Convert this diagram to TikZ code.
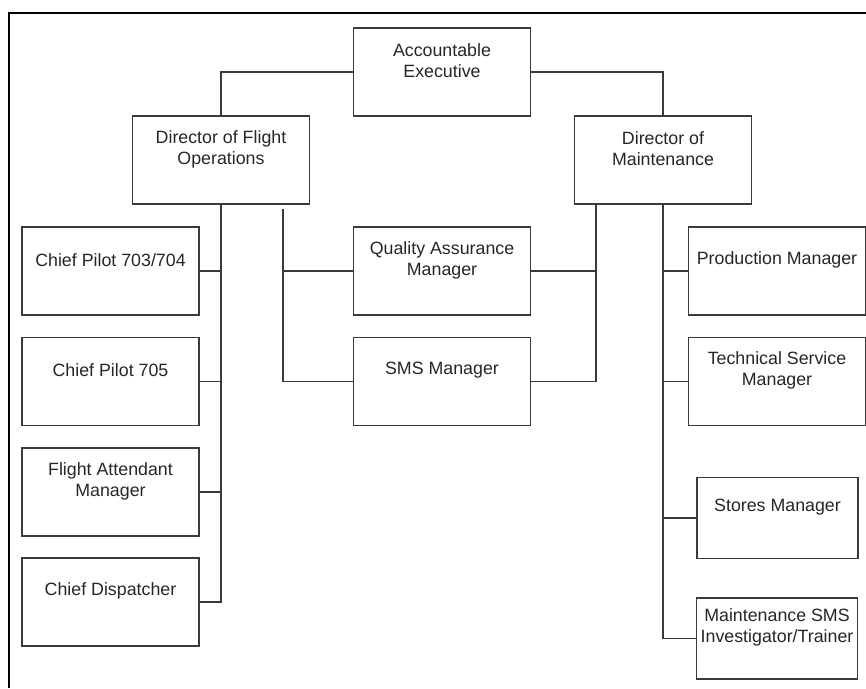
\documentclass[tikz,border=0pt]{standalone}
\usepackage{fontspec}
\setmainfont{Liberation Sans}
\definecolor{boxline}{HTML}{3A3A3A}
\definecolor{textgray}{HTML}{262626}
\tikzset{
  office/.style={draw=boxline, line width=1.3pt, minimum width=177pt, minimum height=88pt, inner sep=0pt},
  smalloffice/.style={office, minimum width=161pt, minimum height=81pt},
  title/.style={align=center, text=textgray, inner sep=0pt,
    font=\fontsize{17.8}{21}\selectfont},
  link/.style={draw=boxline, line width=1.3pt}
}

\begin{document}
\begin{tikzpicture}[x=1pt, y=-1pt]
		\useasboundingbox (0,0) rectangle (866,688);
		% open frame round the chart
		\coordinate (frameA) at (9,688);
		\coordinate (frameB) at (9,13);
		\coordinate (frameC) at (866,13);
		\draw[line width=1.6pt] (frameA) -- (frameB) -- (frameC);

		% boxes
		\node[office] (ae) at (442,72) {};
		\node[office] (dfo) at (221,160) {};
		\node[office] (dom) at (663,160) {};
		\node[office] (cp1) at (110.5,271) {};
		\node[office] (cp2) at (110.5,381.5) {};
		\node[office] (fam) at (110.5,492) {};
		\node[office] (cd) at (110.5,602) {};
		\node[office] (qam) at (442,271) {};
		\node[office] (sms) at (442,381.5) {};
		\node[office] (pm) at (777,271) {};
		\node[office] (tsm) at (777,381.5) {};
		\node[smalloffice] (stm) at (777.5,518) {};
		\node[smalloffice] (msi) at (777,638.5) {};

		% titles
		\node[title] (aet) at ([yshift=11pt]ae.center) {Accountable\\Executive};
		\node[title] (dfot) at ([yshift=11pt]dfo.center) {Director of Flight\\Operations};
		\node[title] (domt) at ([yshift=11pt]dom.center) {Director of\\Maintenance};
		\node[title] (cp1t) at ([yshift=11pt]cp1.center) {Chief Pilot 703/704};
		\node[title] (cp2t) at ([yshift=11pt]cp2.center) {Chief Pilot 705};
		\node[title] (famt) at ([yshift=11pt]fam.center) {Flight Attendant\\Manager};
		\node[title] (cdt) at ([yshift=11pt]cd.center) {Chief Dispatcher};
		\node[title] (qamt) at ([yshift=11pt]qam.center) {Quality Assurance\\Manager};
		\node[title] (smst) at ([yshift=11pt]sms.center) {SMS Manager};
		\node[title] (pmt) at ([yshift=11pt]pm.center) {Production Manager};
		\node[title] (tsmt) at ([yshift=11pt]tsm.center) {Technical Service\\Manager};
		\node[title] (stmt) at ([yshift=11pt]stm.center) {Stores Manager};
		\node[title] (msit) at ([yshift=11pt]msi.center) {Maintenance SMS\\Investigator/Trainer};

		% top level
		\draw[link] (ae.west) -| (dfo.north);
		\draw[link] (ae.east) -| (dom.north);

		% flight operations
		\draw[link] (dfo.south) |- (cd.east);
		\draw[link] (cp1.east) -- (cp1.east -| dfo.south);
		\draw[link] (cp2.east) -- (cp2.east -| dfo.south);
		\draw[link] (fam.east) -- (fam.east -| dfo.south);
		\coordinate (dfoq) at ([xshift=62pt,yshift=-4pt]dfo.south);
		\draw[link] (dfoq) |- (sms.west);
		\draw[link] (qam.west) -- (qam.west -| dfoq);

		% maintenance
		\coordinate (domq) at ([xshift=-67pt]dom.south);
		\draw[link] (domq) |- (sms.east);
		\draw[link] (qam.east) -- (qam.east -| domq);
		\draw[link] (dom.south) |- (msi.west);
		\draw[link] (pm.west) -- (pm.west -| dom.south);
		\draw[link] (tsm.west) -- (tsm.west -| dom.south);
		\draw[link] (stm.west) -- (stm.west -| dom.south);
	\end{tikzpicture}
\end{document}
